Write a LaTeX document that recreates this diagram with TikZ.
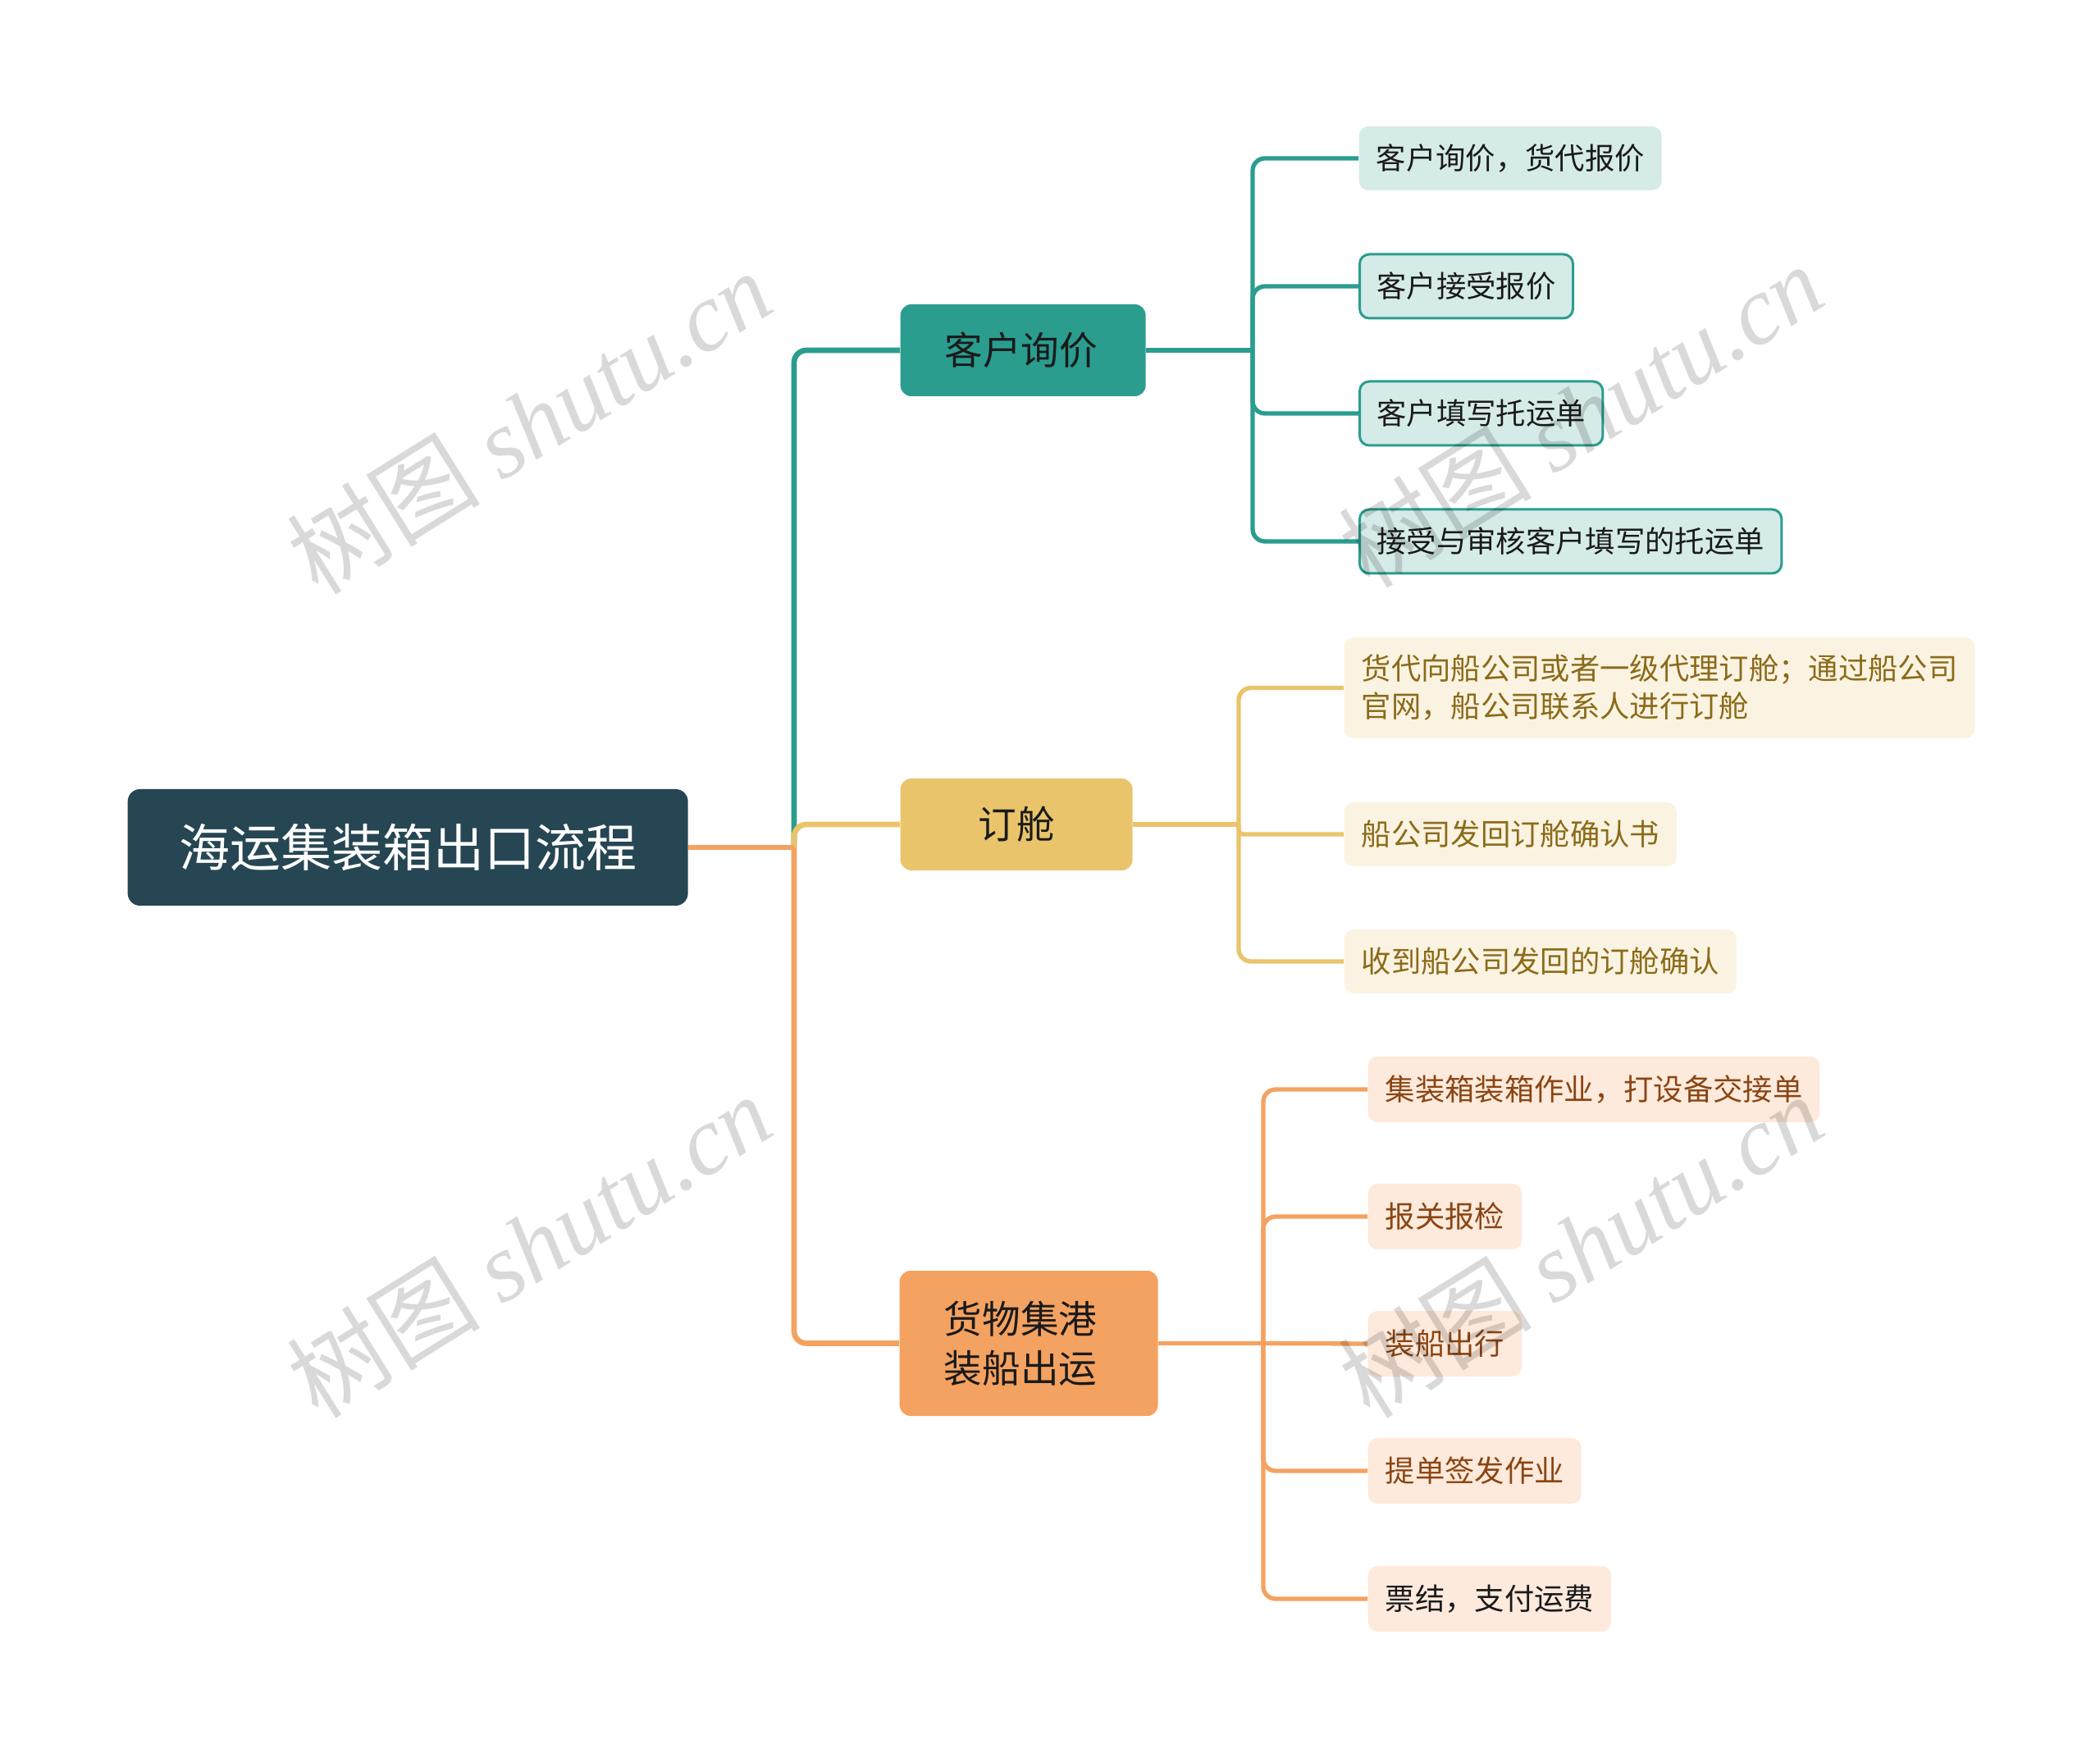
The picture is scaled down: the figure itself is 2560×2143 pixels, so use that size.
\documentclass[tikz,border=0pt]{standalone}
\usepackage{fontspec}
\newfontfamily\cjk{Noto Sans CJK SC}
\newfontfamily\wmlatin{Liberation Serif}
\definecolor{rootc}{HTML}{264653}
\definecolor{tealc}{HTML}{2A9D8F}
\definecolor{yelc}{HTML}{E9C46A}
\definecolor{orc}{HTML}{F4A261}
\definecolor{tealf}{HTML}{D5EBE8}
\definecolor{yelf}{HTML}{FBF3E1}
\definecolor{orf}{HTML}{FDEADC}
\definecolor{yelt}{HTML}{8B6B1A}
\definecolor{ort}{HTML}{8B4513}
\definecolor{txtd}{HTML}{1A1A1A}
\begin{document}
\begin{tikzpicture}[x=0.3pt,y=-0.3pt,
  rootbox/.style={fill=rootc, rounded corners=4.5pt, anchor=west, text=white,
    font=\cjk\fontsize{18.6}{22}\selectfont, minimum width=204.9pt, minimum height=42.6pt, inner sep=0pt},
  branchbox/.style={rounded corners=4pt, anchor=west, text=txtd,
    font=\cjk\fontsize{14}{18}\selectfont, inner sep=0pt, minimum height=33.6pt},
  leafbox/.style={rounded corners=3.5pt, anchor=west, font=\cjk\fontsize{10.9}{13.8}\selectfont,
    inner xsep=6.3pt, inner ysep=0pt, minimum height=23.4pt},
  tleaf/.style={leafbox, fill=tealf, text=txtd},
  tleafb/.style={tleaf, draw=tealc, line width=0.9pt},
  yleaf/.style={leafbox, fill=yelf, text=yelt},
  oleaf/.style={leafbox, fill=orf, text=ort, minimum height=24pt},
  mainline/.style={line width=2pt, rounded corners=4.5pt},
  subline/.style={line width=1.6pt, rounded corners=4.5pt},
  wm/.style={rotate=32, text=black, text opacity=0.15, font=\cjk\fontsize{35.5}{38}\selectfont}
]
\useasboundingbox (0,0) rectangle (2560,2143);

% nodes
\node[rootbox] (root) at (155,1033) {海运集装箱出口流程};
\node[branchbox, fill=tealc, minimum width=89.7pt] (b1) at (1097,427) {客户询价\hspace*{1.5pt}};
\node[branchbox, fill=yelc, minimum width=84.9pt] (b2) at (1097,1005) {订舱};
\node[branchbox, fill=orc, minimum width=94.5pt, minimum height=53.1pt, align=center] (b3) at (1096,1637.5) {货物集港\hspace*{6pt}\\装船出运\hspace*{6pt}};

\node[tleaf] (l1) at (1656,193) {客户询价，货代报价};
\node[tleafb] (l2) at (1656,349) {客户接受报价};
\node[tleafb] (l3) at (1656,504) {客户填写托运单};
\node[tleafb] (l4) at (1656,660) {接受与审核客户填写的托运单};

\node[yleaf, align=left, minimum height=36.9pt] (y1) at (1638,838.5) {货代向船公司或者一级代理订舱；通过船公司\\官网，船公司联系人进行订舱};
\node[yleaf] (y2) at (1638,1017) {船公司发回订舱确认书};
\node[yleaf] (y3) at (1638,1172) {收到船公司发回的订舱确认};

\node[oleaf] (o1) at (1667,1328) {集装箱装箱作业，打设备交接单};
\node[oleaf] (o2) at (1667,1483) {报关报检};
\node[oleaf] (o3) at (1667,1638) {装船出行};
\node[oleaf] (o4) at (1667,1793) {提单签发作业};
\node[oleaf, text=txtd] (o5) at (1667,1949) {票结，支付运费};

% junctions
\coordinate (j) at (968,1033);
\coordinate (t1) at (1527,427);
\coordinate (t2) at (1510,1005);
\coordinate (t3) at (1540,1637.5);

% main connectors
\draw[mainline, draw=tealc] (j) |- (b1.west);
\draw[mainline, draw=orc] (j) |- (b3.west);
\draw[mainline, draw=yelc] (j) |- (b2.west);
\draw[mainline, draw=orc, rounded corners=0pt] (root.east) -- (j);

% sub connectors teal
\draw[subline, draw=tealc] (b1.east) -- (t1);
\foreach \n in {l1,l2,l3,l4} \draw[subline, draw=tealc] (t1) |- (\n.west);
% yellow
\draw[subline, draw=yelc] (b2.east) -- (t2);
\draw[subline, draw=yelc] (t2) |- (y1.west);
\draw[subline, draw=yelc, rounded corners=1.8pt] (t2) |- (y2.west);
\draw[subline, draw=yelc] (t2) |- (y3.west);
% orange
\draw[subline, draw=orc] (b3.east) -- (t3);
\foreach \n in {o1,o2,o4,o5} \draw[subline, draw=orc] (t3) |- (\n.west);
\draw[subline, draw=orc] (t3) -- (o3.west);

% watermarks
\node[wm] (w1) at (645,514) {树图 {\wmlatin\itshape shutu.cn}};
\node[wm] (w2) at (1927,506) {树图 {\wmlatin\itshape shutu.cn}};
\node[wm] (w3) at (645,1518) {树图 {\wmlatin\itshape shutu.cn}};
\node[wm] (w4) at (1927,1518) {树图 {\wmlatin\itshape shutu.cn}};
\end{tikzpicture}
\end{document}
